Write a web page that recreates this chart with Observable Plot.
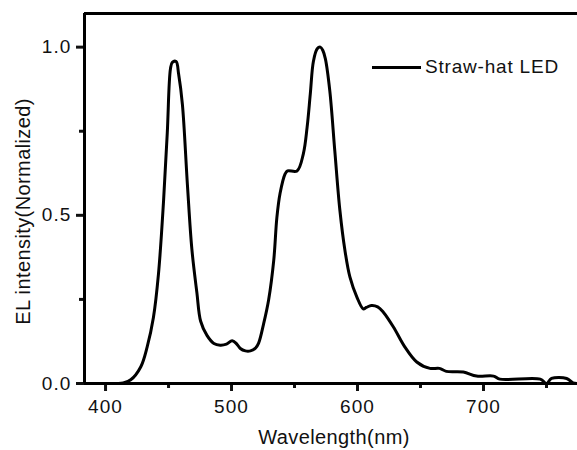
<!DOCTYPE html>
<html>
<head>
<meta charset="utf-8">
<script src="https://cdn.jsdelivr.net/npm/d3@7"></script>
<script src="https://cdn.jsdelivr.net/npm/@observablehq/plot@0.6"></script>
<style>
  body { margin: 0; background: #fff; }
  #wrap { position: relative; width: 577px; height: 450px; overflow: hidden; }
  #legend { position: absolute; left: 372px; top: 56px; display: flex; align-items: center;
    font-family: "Liberation Sans", Arial, sans-serif; font-size: 19px; letter-spacing: 0.8px; color: #111; }
  #legend .sw { width: 49px; height: 3px; background: #000; margin-right: 4px; }
  svg text { letter-spacing: 1.1px; }
  svg text.lbl { letter-spacing: 0.4px; }
</style>
</head>
<body>
<div id="wrap"><div id="legend"><span class="sw"></span><span>Straw-hat LED</span></div></div>
<script>
const wavelength = [400, 410, 414, 420, 428, 433, 438, 442, 446, 449, 451.5, 453, 456, 458, 461, 465, 468.5, 472.5, 475.5, 480.5, 486, 491, 496, 500.5, 504, 507, 511, 515, 519, 521.5, 525.5, 529.5, 533.5, 536, 538.5, 542.5, 544.5, 552, 557, 560, 562.5, 565, 568, 570.5, 572.5, 574.5, 578, 582, 586, 590, 594, 599.5, 604.5, 607, 611, 616, 620.5, 628.5, 637.5, 647, 657.5, 665, 670.5, 684, 694.5, 708, 713, 745, 750, 754, 766, 771, 775];
const intensity = [0, 0, 0.002, 0.011, 0.05, 0.108, 0.196, 0.325, 0.54, 0.745, 0.935, 0.955, 0.957, 0.92, 0.83, 0.59, 0.40, 0.27, 0.185, 0.143, 0.119, 0.114, 0.117, 0.127, 0.118, 0.104, 0.097, 0.097, 0.105, 0.12, 0.178, 0.25, 0.366, 0.494, 0.565, 0.623, 0.632, 0.632, 0.683, 0.762, 0.86, 0.958, 0.995, 1.0, 0.99, 0.965, 0.87, 0.69, 0.515, 0.396, 0.316, 0.257, 0.222, 0.226, 0.232, 0.228, 0.212, 0.168, 0.109, 0.064, 0.045, 0.045, 0.036, 0.034, 0.022, 0.022, 0.013, 0.013, 0.0, 0.015, 0.015, 0.002, 0];
const xDomain = [383.3, 774.6];
const yDomain = [0, 1.1];
const xMajor = [400, 500, 600, 700];
const xMinor = [450, 550, 650, 750];
const yMajor = [0, 0.5, 1.0];
const yMinor = [0.25, 0.75];
const seriesName = "Straw-hat LED";
const xLabel = "Wavelength(nm)";
const yLabel = "EL intensity(Normalized)";

const data = wavelength.map((w, i) => ({w, v: intensity[i]}));
const font = "Liberation Sans, Arial, sans-serif";

const chart = Plot.plot({
  width: 577,
  height: 450,
  marginLeft: 84,
  marginRight: 0,
  marginTop: 13,
  marginBottom: 67,
  style: {fontFamily: font, fontSize: "19px", color: "#111", background: "#fff", overflow: "visible"},
  x: {domain: xDomain},
  y: {domain: yDomain},
  marks: [
    Plot.axisX(xMinor, {tickSize: 5, text: null, strokeWidth: 3, label: null}),
    Plot.axisX(xMajor, {tickSize: 8, tickPadding: 8, strokeWidth: 3, fontSize: 19, label: null}),
    Plot.axisY(yMinor, {tickSize: 5, text: null, strokeWidth: 3, label: null}),
    Plot.axisY(yMajor, {tickSize: 8, tickPadding: 5, strokeWidth: 3, fontSize: 19,
      tickFormat: d => d.toFixed(1), label: null}),
    Plot.ruleY([yDomain[1]], {stroke: "#000", strokeWidth: 3}),
    Plot.ruleX([xDomain[0]], {stroke: "#000", strokeWidth: 3}),
    Plot.line(data, {x: "w", y: "v", stroke: "#000", strokeWidth: 3, strokeLinejoin: "round", curve: "catmull-rom"}),
    Plot.ruleY([yDomain[0]], {stroke: "#000", strokeWidth: 3})
  ]
});
const svg = d3.select(chart);
svg.append("text").attr("class", "lbl")
  .attr("transform", "translate(334,437)")
  .attr("text-anchor", "middle").attr("dominant-baseline", "central")
  .attr("font-size", 20).attr("fill", "#111").text(xLabel);
svg.append("text").attr("class", "lbl")
  .attr("transform", "translate(23,211.5) rotate(-90)")
  .attr("text-anchor", "middle").attr("dominant-baseline", "central")
  .attr("font-size", 20).attr("fill", "#111").text(yLabel);
document.getElementById("wrap").prepend(chart);
document.querySelector("#legend span:last-child").textContent = seriesName;
</script>
</body>
</html>
